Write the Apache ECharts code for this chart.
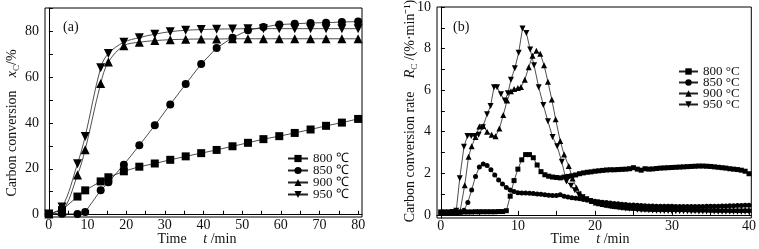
<!DOCTYPE html>
<html><head><meta charset="utf-8">
<script src="https://cdn.jsdelivr.net/npm/echarts@6/dist/echarts.min.js"></script>
<style>html,body{margin:0;padding:0;background:#fff}#c{width:759px;height:249px}</style>
</head><body><div id="c"></div>
<script>
// ---------- Panel (a): carbon conversion x_C (%) vs time (min) ----------
const timeA = [0,3.4,7.4,9.4,13.4,15.4,19.4,23.4,27.4,31.4,35.4,39.4,43.4,47.5,51.5,55.5,59.6,63.6,67.7,71.7,75.8,80];
const convA800 = [0.3,2.0,7.9,10.6,14.5,16.3,18.9,20.9,22.3,23.9,25.4,26.8,28.2,29.8,31.3,32.9,34.2,35.6,37.1,38.7,40.1,41.7];
const convA850 = [0.3,0.4,0.3,1.2,10.6,14.1,21.8,30.2,38.9,48.0,56.9,65.6,72.6,77.1,80.3,81.7,82.8,83.1,83.5,83.6,83.9,84.1];
const convA900 = [0.3,1.5,17.3,28.3,57.1,66.5,73.6,75.1,75.8,76.2,76.4,76.5,76.5,76.6,76.6,76.6,76.6,76.6,76.6,76.6,76.6,76.6];
const convA950 = [0.3,3.3,22.2,34.1,64.0,70.2,75.1,77.1,78.6,79.7,80.3,80.6,80.8,80.9,81.0,81.0,81.0,81.0,81.0,81.0,81.0,81.0];
const namesA = ['800 ℃','850 ℃','900 ℃','950 ℃'];
const xTicksA = [0,10,20,30,40,50,60,70,80];
const xMinorA = [0,5,10,15,20,25,30,35,40,45,50,55,60,65,70,75,80];
const yTicksA = [0,20,40,60,80];
const yMinorA = [0,10,20,30,40,50,60,70,80,90];

// ---------- Panel (b): carbon conversion rate R_C (%/min) vs time (min) ----------
const timeB = [0,0.5,1,1.5,2,2.5,3,3.5,4,4.5,5,5.5,6,6.5,7,7.5,8,8.5,9,9.5,10,10.5,11,11.5,12,12.5,13,13.5,14,14.5,15,15.5,16,16.5,17,17.5,18,18.5,19,19.5,20,20.5,21,21.5,22,22.5,23,23.5,24,24.5,25,25.5,26,26.5,27,27.5,28,28.5,29,29.5,30,30.5,31,31.5,32,32.5,33,33.5,34,34.5,35,35.5,36,36.5,37,37.5,38,38.5,39,39.5,40];
const rate800 = [0.12,0.12,0.12,0.12,0.13,0.13,0.14,0.14,0.14,0.15,0.15,0.15,0.15,0.15,0.15,0.16,0.16,0.2,
  0.9,1.65,2.2,2.65,2.9,2.9,2.75,2.4,2.08,1.93,1.86,1.82,1.8,1.78,1.82,1.85,1.88,1.92,1.98,2.02,2.05,2.07,
  2.1,2.12,2.14,2.16,2.17,2.17,2.18,2.19,2.2,2.22,2.27,2.2,2.15,2.22,2.2,2.21,2.23,2.25,2.26,2.27,
  2.28,2.29,2.3,2.31,2.32,2.33,2.34,2.35,2.35,2.34,2.33,2.31,2.29,2.27,2.25,2.22,2.2,2.18,2.15,2.1,1.98];
const rate850 = [0.12,0.12,0.12,0.12,0.12,0.13,0.22,0.6,1.2,1.85,2.3,2.45,2.38,2.17,1.92,1.68,1.48,1.32,1.2,1.12,
  1.07,1.05,1.05,1.04,1.03,1.01,0.99,0.97,0.95,0.93,0.93,0.97,0.9,0.86,0.83,0.8,0.77,0.74,0.71,0.68,
  0.66,0.63,0.61,0.59,0.57,0.55,0.53,0.51,0.5,0.48,0.47,0.46,0.45,0.44,0.43,0.43,0.42,0.42,0.41,0.41,
  0.41,0.4,0.4,0.4,0.4,0.4,0.4,0.4,0.4,0.41,0.41,0.42,0.42,0.43,0.43,0.44,0.44,0.45,0.45,0.46,0.46];
const time900 = [0,0.5,1,1.5,2,2.5,3.1,3.6,4.0,4.5,5.0,5.5,6.0,6.6,7.1,7.6,8.1,8.6,9.1,9.5,10.0,10.4,10.9,11.4,11.9,12.4,12.9,13.4,13.9,14.4,14.9,15.5,16.0,16.6,17.1,17.6,18.1,18.6,19.1,19.6,20.1,
  20.5,21,21.5,22,22.5,23,23.5,24,24.5,25,25.5,26,26.5,27,27.5,28,28.5,29,29.5,30,30.5,31,31.5,32,32.5,33,33.5,34,34.5,35,35.5,36,36.5,37,37.5,38,38.5,39,39.5,40];
const rate900 = [0.12,0.12,0.12,0.12,0.13,0.18,1.43,2.8,3.3,3.75,4.25,4.28,4.0,3.85,3.78,4.15,4.8,5.5,5.95,6.05,6.1,6.15,6.5,7.1,7.65,7.9,7.75,7.2,6.4,5.55,4.6,3.55,2.9,2.35,1.75,1.3,1.02,0.85,0.75,0.67,0.6,
  0.56,0.52,0.49,0.46,0.43,0.41,0.39,0.37,0.35,0.34,0.33,0.32,0.31,0.31,0.3,0.3,0.3,0.29,0.29,0.29,0.28,0.28,0.28,0.28,0.27,0.27,0.27,0.27,0.27,0.26,0.26,0.26,0.26,0.26,0.26,0.25,0.25,0.25,0.25,0.25];
const time950 = [0,0.5,1,1.5,2,2.45,3.0,3.45,3.95,4.4,4.9,5.45,6.0,6.45,6.9,7.3,7.8,8.3,8.7,9.1,9.6,10.1,10.6,11.1,11.6,12.1,12.7,13.3,13.9,14.5,15.1,15.7,16.3,16.9,17.4,17.9,18.4,18.9,19.4,20.0,
  20.5,21,21.5,22,22.5,23,23.5,24,24.5,25,25.5,26,26.5,27,27.5,28,28.5,29,29.5,30,30.5,31,31.5,32,32.5,33,33.5,34,34.5,35,35.5,36,36.5,37,37.5,38,38.5,39,39.5,40];
const rate950 = [0.12,0.12,0.12,0.14,0.2,1.76,3.28,3.8,3.8,3.8,3.85,4.22,4.84,5.24,6.14,6.14,5.8,5.5,5.85,6.5,7.05,7.8,8.97,8.75,7.95,7.2,6.14,5.29,4.5,3.75,3.3,2.55,1.6,1.4,1.18,0.98,0.85,0.75,0.67,0.6,
  0.55,0.5,0.46,0.42,0.39,0.36,0.33,0.31,0.29,0.27,0.25,0.24,0.23,0.22,0.21,0.2,0.2,0.19,0.19,0.18,0.18,0.18,0.17,0.17,0.17,0.17,0.16,0.16,0.16,0.16,0.16,0.15,0.15,0.15,0.15,0.15,0.15,0.15,0.15,0.15];
const namesB = ['800 °C','850 °C','900 °C','950 °C'];
const xTicksB = [0,10,20,30,40];
const xMinorB = [0,5,10,15,20,25,30,35,40];
const yTicksB = [0,2,4,6,8,10];
const yMinorB = [0,1,2,3,4,5,6,7,8,9,10];

const FONT = 'Liberation Serif';
const pairs = (xs, ys) => xs.map((x, i) => [x, ys[i]]);

function axis(gridIndex, min, max, labels, ticks, margin) {
  return {
    type: 'value', gridIndex, min, max,
    axisLine: { show: true, lineStyle: { color: '#000', width: 1 } },
    axisTick: { show: true, inside: true, length: 4, customValues: ticks, lineStyle: { color: '#000' } },
    axisLabel: { customValues: labels, margin, fontFamily: FONT, fontSize: 14, color: '#111' },
    splitLine: { show: false }
  };
}

function lineSeries(name, data, xi, symbol, size, rotate, smooth) {
  return {
    type: 'line', name, data, xAxisIndex: xi, yAxisIndex: xi,
    symbol, symbolSize: size, symbolRotate: rotate, smooth,
    showAllSymbol: true, clip: false,
    itemStyle: { color: '#000' },
    lineStyle: { color: '#222', width: 0.8 },
    emphasis: { disabled: true }
  };
}

// one legend per entry so each row sits exactly where the reference has it
function legendItem(name, left, centerY, w, h) {
  return {
    data: [name], orient: 'vertical', left, top: centerY - 6, itemWidth: w, itemHeight: h,
    padding: 0, selectedMode: false,
    textStyle: { fontFamily: FONT, fontSize: 13, color: '#111' }
  };
}

const rich = {
  n: { fontFamily: FONT, fontSize: 14, fill: '#111', fontStyle: 'normal' },
  i: { fontFamily: FONT, fontSize: 14, fill: '#111', fontStyle: 'italic' },
  s: { fontFamily: FONT, fontSize: 9, fill: '#111', verticalAlign: 'bottom', lineHeight: 18 }
};

const legendRowsA = [158, 170, 182, 194];
const legendRowsB = [71, 82, 93, 104];

const chart = echarts.init(document.getElementById('c'), null, { renderer: 'canvas' });
chart.setOption({
  animation: false,
  backgroundColor: '#fff',
  grid: [
    { left: 45, top: 8, width: 317, height: 209, show: true, borderColor: '#000', borderWidth: 1 },
    { left: 437, top: 7, width: 316, height: 211, show: true, borderColor: '#000', borderWidth: 1 }
  ],
  xAxis: [
    axis(0, -1, 81, xTicksA, xMinorA, 1),
    axis(1, -0.5, 40.3, xTicksB, xMinorB, 1)
  ],
  yAxis: [
    axis(0, -1, 90, yTicksA, yMinorA, 6),
    axis(1, -0.15, 10, yTicksB, yMinorB, 6)
  ],
  legend: [
    ...namesA.map((n, i) => legendItem(n, 287, legendRowsA[i], 20, 9)),
    ...namesB.map((n, i) => legendItem(n, 678, legendRowsB[i], 19, 8))
  ],
  series: [
    lineSeries(namesA[0], pairs(timeA, convA800), 0, 'rect', 8, 0, false),
    lineSeries(namesA[1], pairs(timeA, convA850), 0, 'circle', 8, 0, false),
    lineSeries(namesA[2], pairs(timeA, convA900), 0, 'triangle', 9, 0, 0.35),
    lineSeries(namesA[3], pairs(timeA, convA950), 0, 'triangle', 9, 180, 0.35),
    lineSeries(namesB[0], pairs(timeB, rate800), 1, 'rect', 5, 0, false),
    lineSeries(namesB[1], pairs(timeB, rate850), 1, 'circle', 5, 0, false),
    lineSeries(namesB[2], pairs(time900, rate900), 1, 'triangle', 6, 0, false),
    lineSeries(namesB[3], pairs(time950, rate950), 1, 'triangle', 6, 180, false)
  ],
  graphic: [
    { type: 'text', x: 63, y: 27, style: { text: '(a)', fontFamily: FONT, fontSize: 14, fill: '#111', verticalAlign: 'middle' } },
    { type: 'text', x: 453, y: 27, style: { text: '(b)', fontFamily: FONT, fontSize: 14, fill: '#111', verticalAlign: 'middle' } },
    { type: 'text', x: 12, y: 123, rotation: Math.PI / 2,
      style: { text: '{n|Carbon conversion}    {i|x}{s|C}{n|/%}', rich, align: 'center', verticalAlign: 'middle' } },
    { type: 'text', x: 410, y: 111, rotation: Math.PI / 2,
      style: { text: '{n|Carbon conversion rate}    {i|R}{s|C}{n| /(%·min⁻¹)}', rich, align: 'center', verticalAlign: 'middle' } },
    { type: 'text', x: 197, y: 239,
      style: { text: '{n|Time}     {i|t}{n| /min}', rich, align: 'center', verticalAlign: 'middle' } },
    { type: 'text', x: 590, y: 239,
      style: { text: '{n|Time}     {i|t}{n| /min}', rich, align: 'center', verticalAlign: 'middle' } }
  ]
});
</script>
</body></html>
